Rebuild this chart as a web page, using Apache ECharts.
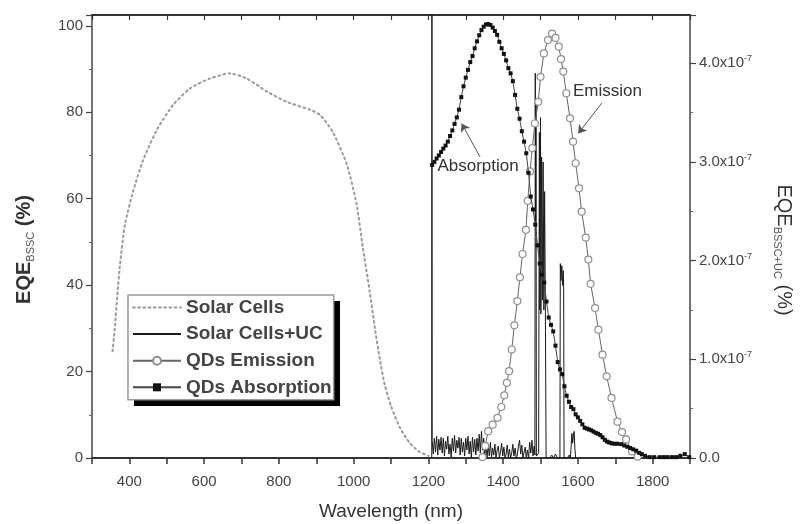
<!DOCTYPE html>
<html><head><meta charset="utf-8">
<script src="https://cdn.jsdelivr.net/npm/echarts@6/dist/echarts.min.js"></script>
<style>html,body{margin:0;padding:0;background:#fff}#c{width:801px;height:524px}</style>
</head><body><div id="c"></div>
<script>
// ---- tick labels ----
const xTickLabels = [400, 600, 800, 1000, 1200, 1400, 1600, 1800];
const leftTickLabels = [0, 20, 40, 60, 80, 100];
const rightTickLabels = ['0.0', '1.0', '2.0', '3.0', '4.0']; // x10^-7

// ---- series names ----
const seriesNames = ['Solar Cells', 'Solar Cells+UC', 'QDs Emission', 'QDs Absorption'];

// ---- Solar Cells EQE_BSSC (%) [wavelength nm, value] ----
const solarCells = [[355,24.7],[361,30],[368,38],[375,44.8],[388,54],[410,61.7],[437,69],[474,76],[517,81.7],[562,85.5],[615,87.8],[669,89],[714,87.8],[768,84.8],[821,82.4],[883,80.6],[910,79.4],[944,75.5],[982,67.9],[1008,58.7],[1025,48.5],[1043,38.6],[1057,30],[1070,23],[1083,17],[1100,12],[1124,7],[1150,3.5],[1175,1.5],[1200,0.5]];

// ---- Solar Cells + UC, EQE (units of 1e-7 %) ----
const solarCellsUC = [[1209,0.0],[1209.5,4.7],[1210,0.18],[1213,0.04],[1216,0.2],[1219,0.06],[1222,0.22],[1225,0.03],[1228,0.19],[1231,0.08],[1234,0.21],[1237,0.05],[1240,0.2],[1243,0.02],[1246,0.17],[1249,0.09],[1252,0.22],[1255,0.04],[1258,0.14],[1261,0.01],[1264,0.2],[1267,0.07],[1270,0.23],[1273,0.05],[1276,0.18],[1279,0.1],[1282,0.21],[1285,0.03],[1288,0.2],[1291,0.06],[1294,0.16],[1297,0.02],[1300,0.2],[1303,0.08],[1306,0.22],[1309,0.04],[1312,0.17],[1315,0.0],[1318,0.21],[1321,0.06],[1324,0.19],[1327,0.03],[1330,0.2],[1333,0.07],[1336,0.24],[1339,0.05],[1342,0.27],[1345,0.08],[1348,0.2],[1351,0.02],[1354,0.15],[1357,0.0],[1360,0.13],[1363,0.02],[1366,0.16],[1369,0.01],[1372,0.1],[1375,0.03],[1378,0.14],[1381,0.0],[1384,0.08],[1387,0.12],[1390,0.01],[1393,0.06],[1396,0.15],[1399,0.02],[1402,0.11],[1405,0.0],[1408,0.04],[1411,0.13],[1414,0.01],[1417,0.09],[1420,0.0],[1423,0.05],[1426,0.14],[1429,0.02],[1432,0.1],[1435,0.0],[1438,0.03],[1441,0.12],[1444,0.18],[1447,0.04],[1450,0.13],[1453,0.0],[1456,0.02],[1459,0.11],[1462,0.01],[1465,0.08],[1468,0.0],[1471,0.16],[1474,0.05],[1477,0.18],[1480,0.02],[1483,0.12],[1485,0.03],[1486,3.9],[1487,2.4],[1488,3.6],[1489,0.02],[1492,0.0],[1495,0.05],[1497,3.3],[1498,1.5],[1500,3.45],[1501,1.46],[1503,3.05],[1505,1.6],[1507,3.0],[1509,1.5],[1511,2.7],[1513,1.55],[1515,0.0],[1517,0.0],[1520,0.02],[1525,0.0],[1530,0.03],[1535,0.0],[1540,0.04],[1545,0.0],[1550,0.02],[1552,0.0],[1553,1.97],[1555,1.8],[1557,1.95],[1559,1.75],[1561,1.9],[1562,1.7],[1563,0.0],[1567,0.02],[1572,0.0],[1577,0.03],[1580,0.0],[1582,0.12],[1584,0.25],[1586,0.15],[1588,0.22],[1590,0.27],[1592,0.1],[1594,0.0],[1597,0.0]];

// ---- QDs Emission (normalised, left scale) ----
const qdEmission = [[1345,0.2],[1352,2.8],[1360,6.2],[1372,7.7],[1385,9.3],[1395,11.8],[1403,14.5],[1410,17.4],[1416,20.1],[1423,25.1],[1430,30.7],[1438,36.3],[1445,41.8],[1452,47.2],[1461,52.8],[1466,59.5],[1472,66.3],[1478,71.7],[1485,77.4],[1494,82.4],[1500,88.2],[1509,93.6],[1520,96.7],[1531,98.2],[1540,97.2],[1549,95.2],[1555,92.3],[1561,89.4],[1569,84.4],[1579,78.6],[1587,73.2],[1594,68.2],[1603,62.4],[1610,57],[1621,51],[1628,45.9],[1634,40.3],[1646,34.7],[1655,29.7],[1666,23.9],[1677,18.9],[1690,13.9],[1706,8.4],[1718,6],[1729,4.3],[1745,1.5],[1760,0.3]];

// ---- QDs Absorption (normalised, left scale) ----
const qdAbsorption = [[1210,67.8],[1216,68.5],[1222,69.3],[1228,70],[1234,70.8],[1240,71.6],[1246,72.3],[1252,73.2],[1258,74.5],[1264,75.8],[1270,77.3],[1276,78.8],[1282,80.6],[1288,83.5],[1294,86],[1300,88],[1306,89.8],[1312,91.6],[1318,93],[1324,94.8],[1330,96.4],[1336,97.8],[1342,99],[1348,99.8],[1354,100.3],[1360,100.4],[1366,100.2],[1372,99.6],[1378,98.8],[1384,97.9],[1390,96.3],[1396,94.8],[1402,93.5],[1408,92],[1414,90.2],[1420,89],[1426,87.2],[1432,84],[1438,80.8],[1444,78.5],[1450,75.6],[1456,73.2],[1462,70.5],[1468,66],[1474,60.5],[1480,57.5],[1486,54],[1492,49.2],[1498,45],[1504,42.4],[1510,40.6],[1516,36.2],[1522,32.5],[1528,30.8],[1534,29.3],[1540,26],[1546,22.2],[1552,20.5],[1558,19.4],[1564,16.6],[1570,14.4],[1576,13],[1582,11.8],[1588,11.3],[1594,10.1],[1600,9.4],[1606,8.6],[1612,7.8],[1618,7],[1624,6.8],[1630,6.6],[1636,6.4],[1642,6.1],[1648,5.8],[1654,5.6],[1660,5.3],[1666,4.8],[1672,4.2],[1678,3.8],[1684,3.6],[1690,3.4],[1698,3.3],[1706,3.3],[1716,3.2],[1724,2.9],[1732,2.6],[1740,2.3],[1748,2],[1756,1.7],[1764,1.2],[1771,0.9],[1780,0.5],[1792,0.2],[1804,0.2],[1819,0.2],[1830,0.2],[1840,0.2],[1852,0.2],[1863,0.2],[1874,0.5],[1886,0.9],[1898,0.2]];

// ---- annotations (data coordinates, left scale) ----
const annotationTexts = [{text:'Absorption', at:[1333,67.4]}, {text:'Emission', at:[1679,84.8]}];
const annotationArrows = [[[1338,69.7],[1289,77.4]], [[1664,82.1],[1601,75.1]]];

const FONT = 'Liberation Sans, Arial, Helvetica, sans-serif';
const chart = echarts.init(document.getElementById('c'), null, {renderer:'canvas'});

chart.setOption({
  animation: false,
  backgroundColor: '#fff',
  textStyle: {fontFamily: FONT},
  grid: {left: 92, right: 111, top: 15, bottom: 66, containLabel: false, outerBoundsMode: 'none'},
  graphic: [{
    // drop shadow behind the legend box
    type: 'rect', z: 9, silent: true,
    shape: {x: 134, y: 301, width: 206, height: 105},
    style: {fill: '#000'}
  }],
  legend: {
    orient: 'vertical', left: 128, top: 295, z: 10,
    padding: [3, 2, 3, 4], itemWidth: 48, itemHeight: 10, itemGap: 7.6,
    selectedMode: false,
    textStyle: {fontFamily: FONT, fontSize: 19, fontWeight: 'bold', color: '#444', lineHeight: 17},
    backgroundColor: '#fff', borderColor: '#9a9a9a', borderWidth: 1.5,
    data: [
      {name: seriesNames[0], itemStyle: {opacity: 0}},
      {name: seriesNames[1], itemStyle: {opacity: 0}},
      {name: seriesNames[2]},
      {name: seriesNames[3]}
    ]
  },
  xAxis: [{
    type: 'value', min: 300, max: 1900, interval: 100, position: 'bottom',
    axisLine: {show: true, onZero: false, lineStyle: {color: '#333', width: 2}},
    axisTick: {show: true, inside: false, length: 6, lineStyle: {color: '#333', width: 1.5}},
    axisLabel: {formatter: v => xTickLabels.includes(v) ? String(v) : '', fontSize: 15, color: '#444', margin: 16, fontFamily: FONT},
    splitLine: {show: false},
    name: 'Wavelength (nm)', nameLocation: 'middle', nameGap: 44,
    nameTextStyle: {fontSize: 19, color: '#333', fontFamily: FONT}
  }, {
    type: 'value', min: 300, max: 1900, interval: 100, position: 'top',
    axisLine: {show: true, onZero: false, lineStyle: {color: '#333', width: 2}},
    axisTick: {show: true, inside: true, length: 5, lineStyle: {color: '#333', width: 1.2}},
    axisLabel: {show: false}, splitLine: {show: false}
  }],
  yAxis: [{
    type: 'value', min: 0, max: 102.5, interval: 20, position: 'left',
    axisLine: {show: true, onZero: false, lineStyle: {color: '#444', width: 1.5}},
    axisTick: {show: true, inside: false, length: 6, lineStyle: {color: '#444', width: 1.2}},
    minorTick: {show: true, splitNumber: 2, length: 3, lineStyle: {color: '#666'}},
    axisLabel: {formatter: v => leftTickLabels.includes(v) ? String(v) : '', fontSize: 15, color: '#444', margin: 9, fontFamily: FONT},
    splitLine: {show: false}, minorSplitLine: {show: false},
    name: '{a|EQE}{b|BSSC}{a| (%)}', nameLocation: 'middle', nameGap: 56, nameRotate: 90,
    nameTextStyle: {padding: [0, 26, 0, 0], rich: {
      a: {fontSize: 20, fontWeight: 'bold', color: '#333', fontFamily: FONT, lineHeight: 24},
      b: {fontSize: 11, color: '#555', fontFamily: FONT, verticalAlign: 'bottom', lineHeight: 12}
    }}
  }, {
    type: 'value', min: 0, max: 4.49, interval: 1, position: 'right',
    axisLine: {show: true, onZero: false, lineStyle: {color: '#444', width: 1.5}},
    axisTick: {show: true, inside: false, length: 6, lineStyle: {color: '#444', width: 1.2}},
    minorTick: {show: true, splitNumber: 2, length: 3, lineStyle: {color: '#666'}},
    axisLabel: {
      formatter: v => {
        const i = Math.round(v);
        if (Math.abs(v - i) > 1e-6 || i >= rightTickLabels.length) return '';
        return i === 0 ? '{m|' + rightTickLabels[0] + '}' : '{m|' + rightTickLabels[i] + 'x10}{s|-7}';
      },
      margin: 9,
      rich: {
        m: {fontSize: 15, color: '#444', fontFamily: FONT, lineHeight: 18},
        s: {fontSize: 9, color: '#444', fontFamily: FONT, verticalAlign: 'top', lineHeight: 10}
      }
    },
    splitLine: {show: false}, minorSplitLine: {show: false},
    name: '{a|EQE}{b|BSSC+UC}{a| (%)}', nameLocation: 'middle', nameGap: 82, nameRotate: -90,
    nameTextStyle: {padding: [0, 0, 0, 27], rich: {
      a: {fontSize: 20, color: '#333', fontFamily: FONT, lineHeight: 24},
      b: {fontSize: 11, color: '#555', fontFamily: FONT, verticalAlign: 'bottom', lineHeight: 12}
    }}
  }],
  series: [{
    name: seriesNames[0], type: 'line', xAxisIndex: 0, yAxisIndex: 0,
    data: solarCells, smooth: 0.2, showSymbol: false, symbol: 'none',
    lineStyle: {color: '#9a9a9a', width: 2, type: [1.8, 3.4], cap: 'round'},
    itemStyle: {color: '#9a9a9a'}, z: 2
  }, {
    name: seriesNames[1], type: 'line', xAxisIndex: 0, yAxisIndex: 1,
    data: solarCellsUC, showSymbol: false, symbol: 'none', clip: true,
    lineStyle: {color: '#1a1a1a', width: 1}, itemStyle: {color: '#1a1a1a'}, z: 3
  }, {
    name: seriesNames[2], type: 'line', xAxisIndex: 0, yAxisIndex: 0,
    data: qdEmission, symbol: 'circle', symbolSize: 7, showAllSymbol: true,
    lineStyle: {color: '#666', width: 1},
    itemStyle: {color: '#fff', borderColor: '#8f8f8f', borderWidth: 1.2}, z: 4,
    markPoint: {
      silent: true, symbol: 'circle', symbolSize: 1,
      itemStyle: {color: 'rgba(0,0,0,0)'},
      label: {show: true, position: 'inside', fontSize: 17, color: '#333', fontFamily: FONT, formatter: p => p.name},
      data: annotationTexts.map(a => ({name: a.text, coord: a.at}))
    },
    markLine: {
      silent: true, symbol: ['none', 'arrow'], symbolSize: 8,
      label: {show: false},
      lineStyle: {color: '#555', width: 1, type: 'solid'},
      data: annotationArrows.map(a => [{coord: a[0]}, {coord: a[1]}])
    }
  }, {
    name: seriesNames[3], type: 'line', xAxisIndex: 0, yAxisIndex: 0,
    data: qdAbsorption, symbol: 'rect', symbolSize: 4, showAllSymbol: true,
    lineStyle: {color: '#444', width: 1},
    itemStyle: {color: '#111'}, z: 5
  }]
});
</script></body></html>
